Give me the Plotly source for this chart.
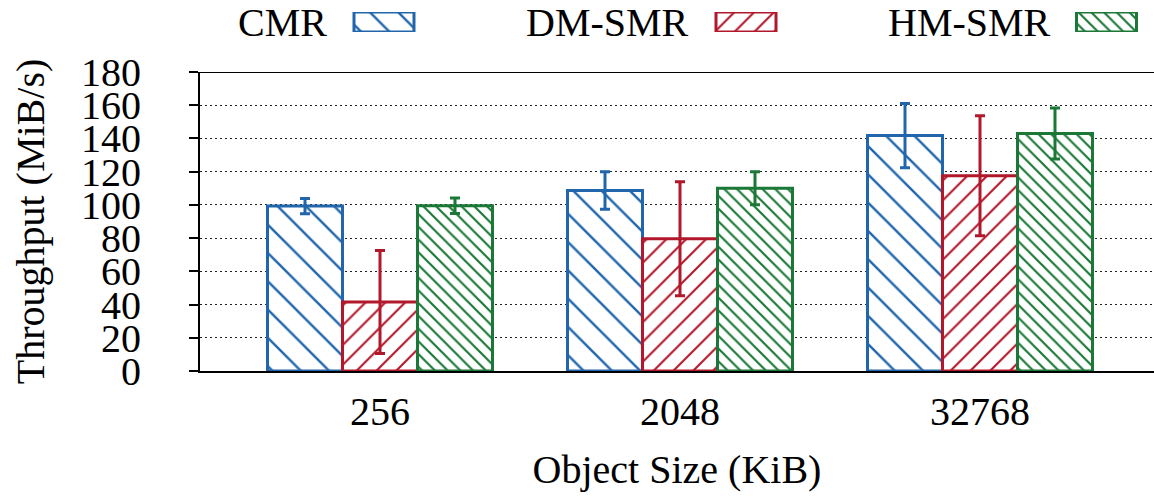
import plotly.graph_objects as go

categories = ["256", "2048", "32768"]
series_names = ["CMR", "DM-SMR", "HM-SMR"]
cmr = [99.3, 108.7, 141.7]
cmr_err = [4.6, 11.3, 19.3]
dm_smr = [41.5, 79.6, 117.5]
dm_smr_err = [31.0, 34.3, 36.1]
hm_smr = [99.5, 110.0, 143.0]
hm_smr_err = [4.7, 9.9, 15.3]
y_ticks = list(range(0, 181, 20))

colors = ["#2166ac", "#b2182b", "#1b7837"]
shapes_pat = ["\\", "/", "\\"]
pat_sizes = [20, 14, 9]
pat_solid = [0.12, 0.15, 0.24]

FONT = "Liberation Serif, Times New Roman, serif"
fig = go.Figure()

values = [cmr, dm_smr, hm_smr]
errors = [cmr_err, dm_smr_err, hm_smr_err]
for i, name in enumerate(series_names):
    fig.add_trace(go.Bar(
        x=categories, y=values[i], name=name, showlegend=False,
        marker=dict(color="white",
                    line=dict(color=colors[i], width=3),
                    pattern=dict(shape=shapes_pat[i], fgcolor=colors[i], bgcolor="white",
                                 fgopacity=1, size=pat_sizes[i], solidity=pat_solid[i])),
        error_y=dict(type="data", array=errors[i], visible=True,
                     color=colors[i], thickness=3, width=5),
        xaxis="x", yaxis="y",
    ))

# legend swatches on an auxiliary axis (pixel-like coordinates)
sw_x = [384, 746, 1106.5]
for i, name in enumerate(series_names):
    fig.add_trace(go.Bar(
        x=[sw_x[i]], y=[1], width=[60], showlegend=False, hoverinfo="skip",
        marker=dict(color="white",
                    line=dict(color=colors[i], width=3),
                    pattern=dict(shape=shapes_pat[i], fgcolor=colors[i], bgcolor="white",
                                 fgopacity=1, size=pat_sizes[i], solidity=pat_solid[i])),
        xaxis="x2", yaxis="y2",
    ))

text_right = [329, 691, 1053]
annotations = []
for i, name in enumerate(series_names):
    annotations.append(dict(
        x=text_right[i], y=0.5, xref="x2", yref="y2", text=name, showarrow=False,
        xanchor="right", yanchor="middle",
        font=dict(family=FONT, size=40, color="black")))

H_PAPER = 366.0
main_top = 299.0 / H_PAPER

fig.update_layout(
    width=1154, height=499,
    margin=dict(l=200, r=0, t=5, b=128, autoexpand=False),
    paper_bgcolor="white", plot_bgcolor="white",
    barmode="group", bargap=0.25, bargroupgap=0,
    font=dict(family=FONT, size=40, color="black"),
    xaxis=dict(domain=[0, 1], range=[-0.6, 2.58], showline=True, linecolor="black",
               linewidth=2, ticks="", showgrid=False, ticklabelstandoff=4,
               tickfont=dict(family=FONT, size=40), automargin=False,
               title=dict(text="Object Size (KiB)", font=dict(family=FONT, size=40), standoff=22),
               anchor="y"),
    yaxis=dict(domain=[0, main_top], range=[0, 180], tickvals=y_ticks, showline=True,
               linecolor="black", linewidth=2, ticks="outside", ticklen=9, tickwidth=2,
               tickcolor="black", showgrid=True, gridcolor="#222222", griddash="2px,3px",
               gridwidth=1, zeroline=False, ticklabelstandoff=40, automargin=False,
               tickfont=dict(family=FONT, size=40),
               title=dict(text="Throughput (MiB/s)", font=dict(family=FONT, size=40), standoff=24),
               anchor="x"),
    xaxis2=dict(domain=[0, 1], range=[200, 1154], visible=False, anchor="y2", automargin=False),
    yaxis2=dict(domain=[(371 - 32) / H_PAPER, (371 - 12) / H_PAPER], range=[0, 1],
                visible=False, anchor="x2", automargin=False),
    annotations=annotations,
    shapes=[dict(type="line", xref="paper", yref="y", x0=0, x1=1, y0=180, y1=180,
                 line=dict(color="black", width=2))],
)

fig.write_html("out.html", post_script="document.body.style.margin='0';",
               config={"displayModeBar": False})
